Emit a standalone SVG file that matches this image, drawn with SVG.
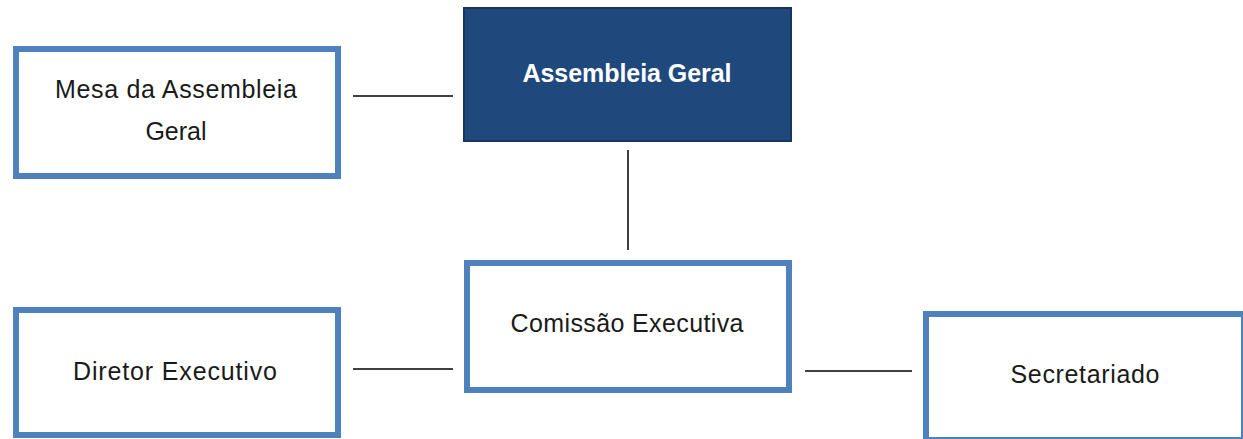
<svg xmlns="http://www.w3.org/2000/svg" width="1243" height="439" viewBox="0 0 1243 439">
<style>
.box{fill:#ffffff;stroke:#4f81bd;stroke-width:6}
.dark{fill:#1f497d;stroke:#17365d;stroke-width:2}
.t{font-family:"Liberation Sans",Arial,sans-serif;font-size:25px;fill:#1a1a1a;text-anchor:middle}
.tw{font-family:"Liberation Sans",Arial,sans-serif;font-size:25px;font-weight:bold;fill:#ffffff;text-anchor:middle}
.c{stroke:#404040;stroke-width:2;fill:none}
</style>
<rect width="1243" height="439" fill="#ffffff"/>
<g id="connectors">
<line class="c" x1="353" y1="96" x2="453" y2="96"/>
<line class="c" x1="628" y1="150" x2="628" y2="250"/>
<line class="c" x1="353" y1="369" x2="453" y2="369"/>
<line class="c" x1="805" y1="371" x2="912" y2="371"/>
</g>
<g id="mesa">
<rect class="box" x="16" y="49" width="322" height="127"/>
<text class="t" x="176" y="98" textLength="242">Mesa da Assembleia</text>
<text class="t" x="176" y="140">Geral</text>
</g>
<g id="assembleia">
<rect class="dark" x="464" y="8" width="327" height="133"/>
<text class="tw" x="627" y="82" textLength="209">Assembleia Geral</text>
</g>
<g id="comissao">
<rect class="box" x="467" y="263" width="322" height="127"/>
<text class="t" x="627" y="332" textLength="233">Comissão Executiva</text>
</g>
<g id="diretor">
<rect class="box" x="16" y="310" width="322" height="125"/>
<text class="t" x="175" y="380" textLength="204">Diretor Executivo</text>
</g>
<g id="secretariado">
<rect class="box" x="926" y="314" width="318" height="126"/>
<text class="t" x="1085" y="383" textLength="149">Secretariado</text>
</g>
</svg>
